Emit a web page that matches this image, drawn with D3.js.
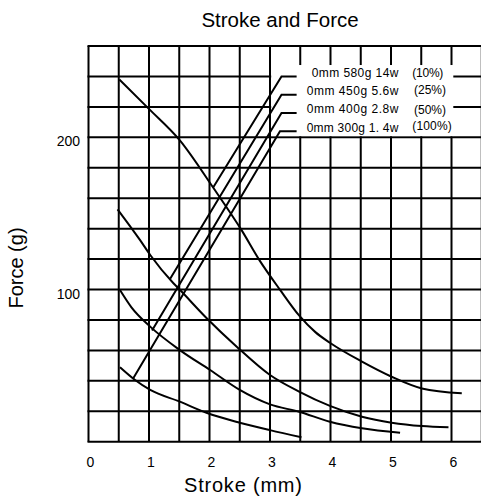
<!DOCTYPE html>
<html><head><meta charset="utf-8">
<script src="https://cdn.jsdelivr.net/npm/d3@7"></script>
<style>html,body{margin:0;padding:0;background:#fff;} svg{display:block;font-family:"Liberation Sans",Arial,sans-serif;}</style>
</head><body>
<script>
// ---- data ----
const title = "Stroke and Force";
const xLabel = "Stroke (mm)";
const yLabel = "Force (g)";
const xTicks = [0,1,2,3,4,5,6];
const yTicks = [100,200];
const xGrid = [0,0.5,1,1.5,2,2.5,3,3.5,4,4.5,5,5.5,6,6.5];
const yGrid = [0,20,40,60,80,100,120,140,160,180,200,220,240,260];

// force curves (stroke mm, force g)
const stroke10 = [0.51,0.99,1.51,2.06,2.53,2.83,3.17,3.48,3.75,3.99,4.52,5.01,5.51,6.17];
const force10  = [238,219,198,167,139,119,99.6,83,72,65,52.6,42.7,35,31.8];
const stroke25 = [0.48,0.85,1.02,1.40,1.51,1.95,2.45,3.0,3.48,3.99,4.52,5.01,5.51,5.95];
const force25  = [152.7,132.6,122.7,104.3,99.8,81.3,62.4,43.8,32.9,23.5,16.4,12.5,10.3,9.5];
const stroke50 = [0.52,0.71,1.02,1.51,2.01,2.50,3.0,3.48,3.99,4.52,5.15];
const force50  = [99.7,88.3,75.6,60.2,47.1,34,24.5,19.7,13.1,8.8,5.9];
const stroke100 = [0.52,0.77,1.02,1.51,1.95,2.50,3.0,3.52];
const force100  = [48.9,40.5,34,26.3,19,12.5,7.6,2.9];

// legend labels and leader lines
const legendSpec = ["0mm 580g 14w","0mm 450g 5.6w","0mm 400g 2.8w","0mm 300g 1. 4w"];
const legendDuty = ["(10%)","(25%)","(50%)","(100%)"];
const leaderStroke = [[2.06,3.19,3.44],[1.35,3.19,3.44],[1.05,3.19,3.44],[0.74,3.165,3.44]];
const leaderForce  = [[167,240,240],[107,228,228],[73,216,216],[41.7,204,204]];

// ---- drawing ----
const W = 481, H = 498;
const svg = d3.select("body").append("svg").attr("width",W).attr("height",H);
svg.append("rect").attr("width",W).attr("height",H).attr("fill","#fff");

const x = d3.scaleLinear().domain([0,6]).range([88.5,451.5]);
const y = d3.scaleLinear().domain([0,260]).range([441.7,46]);

const g = svg.append("g");
// grid
g.selectAll("line.v").data(xGrid).enter().append("line")
  .attr("x1",d=>x(d)).attr("x2",d=>x(d)).attr("y1",y(260)).attr("y2",y(0))
  .attr("stroke","#000").attr("stroke-width",2);
g.selectAll("line.h").data(yGrid).enter().append("line")
  .attr("x1",x(0)-1).attr("x2",W+5).attr("y1",d=>y(d)).attr("y2",d=>y(d))
  .attr("stroke","#000").attr("stroke-width",2);

// legend blank area
g.append("rect").attr("x",x(3)+1.2).attr("y",y(247.5))
  .attr("width",x(6)-x(3)+0.6).attr("height",y(200)-y(247.5)-1.2).attr("fill","#fff");

// curves
const line = d3.line().x(d=>x(d[0])).y(d=>y(d[1])).curve(d3.curveMonotoneX);
const series = [[stroke10,force10],[stroke25,force25],[stroke50,force50],[stroke100,force100]];
series.forEach(([sx,sy])=>{
  g.append("path").datum(sx.map((v,i)=>[v,sy[i]])).attr("d",line)
   .attr("fill","none").attr("stroke","#000").attr("stroke-width",2);
});

// leader lines
const lline = d3.line().x(d=>x(d[0])).y(d=>y(d[1]));
leaderStroke.forEach((sx,k)=>{
  g.append("path").datum(sx.map((v,i)=>[v,leaderForce[k][i]])).attr("d",lline)
   .attr("fill","none").attr("stroke","#000").attr("stroke-width",2);
});

// legend text
const rowsY = [240,228,216,204];
legendSpec.forEach((t,i)=>{
  g.append("text").attr("x", i===0 ? 311.7 : 306.7).attr("y", y(rowsY[i])-2.8)
   .attr("font-size",12).attr("textLength", i===0?86.7:91.7).attr("lengthAdjust","spacing")
   .attr("dominant-baseline","middle").text(t);
});
const dutyX = [[412.3,31],[414,32],[414,32],[412.3,39.4]];
const dutyDY = [-2.7,-3.5,-2.3,-4];
legendDuty.forEach((t,i)=>{
  g.append("text").attr("x",dutyX[i][0]).attr("y",y(rowsY[i])+dutyDY[i])
   .attr("font-size",12).attr("textLength",dutyX[i][1]).attr("lengthAdjust","spacing")
   .attr("dominant-baseline","middle").text(t);
});

// tick labels
g.selectAll("text.xt").data(xTicks).enter().append("text")
  .attr("x",d=>x(d)+2).attr("y",y(0)+25).attr("text-anchor","middle")
  .attr("font-size",14).text(d=>d);
g.selectAll("text.yt").data(yTicks).enter().append("text")
  .attr("x",80).attr("y",d=>y(d)+9).attr("text-anchor","end")
  .attr("font-size",14).text(d=>d);

// titles
svg.append("text").attr("x",280).attr("y",27).attr("text-anchor","middle")
  .attr("font-size",20.5).text(title);
svg.append("text").attr("x",243).attr("y",492).attr("text-anchor","middle")
  .attr("font-size",20).attr("textLength",118).attr("lengthAdjust","spacing").text(xLabel);
svg.append("text").attr("transform","translate(23,268) rotate(-90)").attr("text-anchor","middle")
  .attr("font-size",20).text(yLabel);
</script>
</body></html>
